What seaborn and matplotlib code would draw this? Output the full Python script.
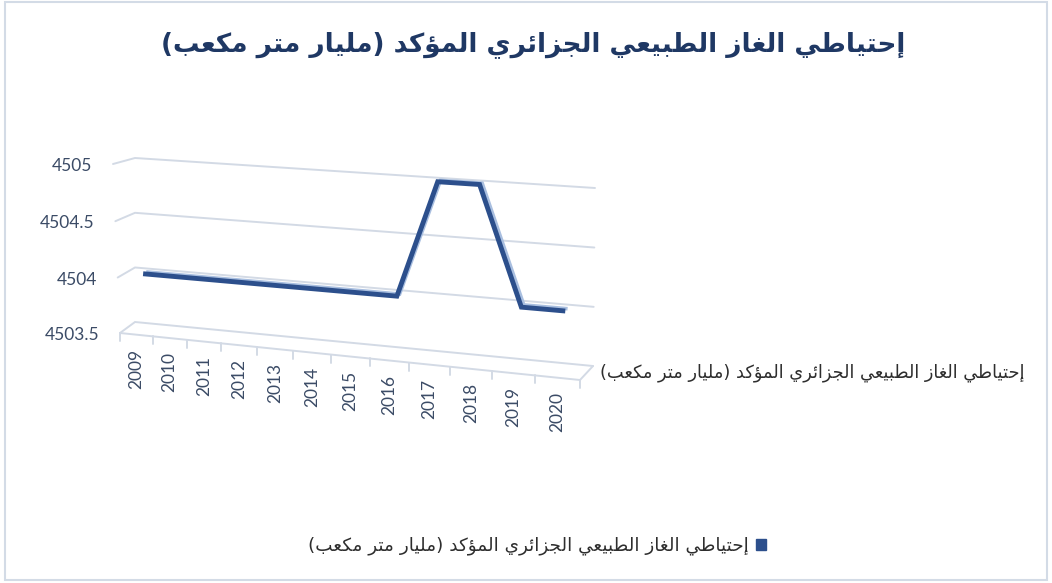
import numpy as np
import pandas as pd
import matplotlib
matplotlib.use("Agg")
import matplotlib.pyplot as plt
import matplotlib.transforms as mtransforms
from matplotlib.patches import Patch, Rectangle
import seaborn as sns

# ---------------------------------------------------------------- data
years = [2009, 2010, 2011, 2012, 2013, 2014, 2015, 2016, 2017, 2018, 2019, 2020]
reserves = [4504, 4504, 4504, 4504, 4504, 4504, 4504, 4504, 4505, 4505, 4504, 4504]
value_ticks = [4503.5, 4504, 4504.5, 4505]
value_tick_labels = ["4503.5", "4504", "4504.5", "4505"]
title_text = "إحتياطي الغاز الطبيعي الجزائري المؤكد (مليار متر مكعب)"
series_name = "إحتياطي الغاز الطبيعي الجزائري المؤكد (مليار متر مكعب)"

# ---------------------------------------------------------------- arabic shaping
# letter -> (isolated, final, initial, medial)
FORMS = {
    '\u0621': ('\uFE80', None, None, None),
    '\u0622': ('\uFE81', '\uFE82', None, None),
    '\u0623': ('\uFE83', '\uFE84', None, None),
    '\u0624': ('\uFE85', '\uFE86', None, None),
    '\u0625': ('\uFE87', '\uFE88', None, None),
    '\u0626': ('\uFE89', '\uFE8A', '\uFE8B', '\uFE8C'),
    '\u0627': ('\uFE8D', '\uFE8E', None, None),
    '\u0628': ('\uFE8F', '\uFE90', '\uFE91', '\uFE92'),
    '\u0629': ('\uFE93', '\uFE94', None, None),
    '\u062A': ('\uFE95', '\uFE96', '\uFE97', '\uFE98'),
    '\u062B': ('\uFE99', '\uFE9A', '\uFE9B', '\uFE9C'),
    '\u062C': ('\uFE9D', '\uFE9E', '\uFE9F', '\uFEA0'),
    '\u062D': ('\uFEA1', '\uFEA2', '\uFEA3', '\uFEA4'),
    '\u062E': ('\uFEA5', '\uFEA6', '\uFEA7', '\uFEA8'),
    '\u062F': ('\uFEA9', '\uFEAA', None, None),
    '\u0630': ('\uFEAB', '\uFEAC', None, None),
    '\u0631': ('\uFEAD', '\uFEAE', None, None),
    '\u0632': ('\uFEAF', '\uFEB0', None, None),
    '\u0633': ('\uFEB1', '\uFEB2', '\uFEB3', '\uFEB4'),
    '\u0634': ('\uFEB5', '\uFEB6', '\uFEB7', '\uFEB8'),
    '\u0635': ('\uFEB9', '\uFEBA', '\uFEBB', '\uFEBC'),
    '\u0636': ('\uFEBD', '\uFEBE', '\uFEBF', '\uFEC0'),
    '\u0637': ('\uFEC1', '\uFEC2', '\uFEC3', '\uFEC4'),
    '\u0638': ('\uFEC5', '\uFEC6', '\uFEC7', '\uFEC8'),
    '\u0639': ('\uFEC9', '\uFECA', '\uFECB', '\uFECC'),
    '\u063A': ('\uFECD', '\uFECE', '\uFECF', '\uFED0'),
    '\u0641': ('\uFED1', '\uFED2', '\uFED3', '\uFED4'),
    '\u0642': ('\uFED5', '\uFED6', '\uFED7', '\uFED8'),
    '\u0643': ('\uFED9', '\uFEDA', '\uFEDB', '\uFEDC'),
    '\u0644': ('\uFEDD', '\uFEDE', '\uFEDF', '\uFEE0'),
    '\u0645': ('\uFEE1', '\uFEE2', '\uFEE3', '\uFEE4'),
    '\u0646': ('\uFEE5', '\uFEE6', '\uFEE7', '\uFEE8'),
    '\u0647': ('\uFEE9', '\uFEEA', '\uFEEB', '\uFEEC'),
    '\u0648': ('\uFEED', '\uFEEE', None, None),
    '\u0649': ('\uFEEF', '\uFEF0', None, None),
    '\u064A': ('\uFEF1', '\uFEF2', '\uFEF3', '\uFEF4'),
}
LAM_ALEF = {
    '\u0622': ('\uFEF5', '\uFEF6'),
    '\u0623': ('\uFEF7', '\uFEF8'),
    '\u0625': ('\uFEF9', '\uFEFA'),
    '\u0627': ('\uFEFB', '\uFEFC'),
}


def _joins_forward(c):
    return c in FORMS and FORMS[c][2] is not None


def _joins_backward(c):
    return c in FORMS and FORMS[c][1] is not None


def shape_arabic(text):
    """Contextual letter forms + right-to-left visual order."""
    out = []
    i, n = 0, len(text)
    while i < n:
        c = text[i]
        if c not in FORMS:
            out.append(c)
            i += 1
            continue
        joins_prev = i > 0 and _joins_forward(text[i - 1])
        if c == '\u0644' and i + 1 < n and text[i + 1] in LAM_ALEF:
            iso, fin = LAM_ALEF[text[i + 1]]
            out.append(fin if joins_prev else iso)
            i += 2
            continue
        joins_next = _joins_forward(c) and i + 1 < n and _joins_backward(text[i + 1])
        iso, fin, ini, med = FORMS[c]
        if joins_prev and joins_next:
            g = med
        elif joins_prev:
            g = fin
        elif joins_next:
            g = ini
        else:
            g = iso
        out.append(g)
        i += 1
    visual = ''.join(reversed(out))
    return visual.translate(str.maketrans('()', ')('))


# ---------------------------------------------------------------- style
sns.set_theme(style="white")
plt.rcParams['font.family'] = ['Lato', 'DejaVu Sans']
ARABIC = ['DejaVu Sans']

W, H = 1052, 583
fig = plt.figure(figsize=(W / 100, H / 100), dpi=100)
ax = fig.add_axes([0, 0, 1, 1])

LINE_DARK = '#2C4F8C'
LINE_LIGHT = '#A9BFE0'
GRID = '#D3DAE5'
AXIS_TEXT = '#3B4B66'
TITLE_COLOR = '#1F3864'

# ---------------------------------------------------------------- 3-D box projection
V_MIN, V_MAX = value_ticks[0], value_ticks[-1]
X_MIN, X_MAX = years[0] - 0.5, years[-1] + 0.5
# screen corners of the plot box walls: top-left, top-right, bottom-left, bottom-right
BACK_WALL = [(135, 158), (595, 188), (135, 322), (593, 366)]
FRONT_FACE = [(113, 164), (584, 196), (120, 333), (580, 380)]
FORESHORTEN = 1.08


def square_to_quad(tl, tr, bl, br):
    src = [(0, 1), (1, 1), (0, 0), (1, 0)]
    dst = [tl, tr, bl, br]
    rows = []
    for (x, y), (X, Y) in zip(src, dst):
        rows.append([x, y, 1, 0, 0, 0, -X * x, -X * y, -X])
        rows.append([0, 0, 0, x, y, 1, -Y * x, -Y * y, -Y])
    _, _, vt = np.linalg.svd(np.asarray(rows, float))
    return vt[-1].reshape(3, 3)


H_BACK = square_to_quad(*BACK_WALL)
H_FRONT = square_to_quad(*FRONT_FACE)


def _apply(hm, s, t):
    p = hm @ np.vstack([s, t, np.ones_like(s)])
    return np.column_stack([p[0] / p[2], p[1] / p[2]])


def project(x, v, depth):
    x, v = np.broadcast_arrays(np.atleast_1d(np.asarray(x, float)),
                               np.atleast_1d(np.asarray(v, float)))
    s = (x - X_MIN) / (X_MAX - X_MIN)
    s = s / (FORESHORTEN + (1 - FORESHORTEN) * s)
    t = (v - V_MIN) / (V_MAX - V_MIN)
    return (1 - depth) * _apply(H_FRONT, s, t) + depth * _apply(H_BACK, s, t)


class BoxProjection(mtransforms.Transform):
    input_dims = 2
    output_dims = 2
    is_separable = False
    has_inverse = False

    def __init__(self, plane_depth):
        super().__init__()
        self.plane_depth = plane_depth

    def transform_non_affine(self, values):
        values = np.asarray(values, float)
        return project(values[:, 0], values[:, 1], self.plane_depth)


# ---------------------------------------------------------------- walls, floor, gridlines
for v in value_ticks:
    pts = np.vstack([project(X_MIN, v, 0), project(X_MIN, v, 1), project(X_MAX, v, 1)])
    ax.plot(pts[:, 0], pts[:, 1], color=GRID, lw=1.4, solid_joinstyle='miter', zorder=1)

floor = np.vstack([project(X_MIN, V_MIN, 0), project(X_MAX, V_MIN, 0), project(X_MAX, V_MIN, 1)])
ax.plot(floor[:, 0], floor[:, 1], color=GRID, lw=1.4, solid_joinstyle='miter', zorder=1)

for b in np.arange(X_MIN, X_MAX + 0.01, 1.0):
    p = project(b, V_MIN, 0)[0]
    ax.plot([p[0], p[0]], [p[1], p[1] + 8], color=GRID, lw=1.4, zorder=1)

# ---------------------------------------------------------------- series ribbon
df = pd.DataFrame({"year": years, "reserve": reserves})
sns.lineplot(data=df, x="year", y="reserve", ax=ax, color=LINE_LIGHT, lw=2.6,
             errorbar=None, legend=False, solid_joinstyle='miter', solid_capstyle='butt',
             transform=BoxProjection(0.7) + ax.transData, zorder=3)
sns.lineplot(data=df, x="year", y="reserve", ax=ax, color=LINE_DARK, lw=3.5,
             errorbar=None, legend=False, solid_joinstyle='miter', solid_capstyle='butt',
             transform=BoxProjection(0.52) + ax.transData, zorder=4)

# ---------------------------------------------------------------- tick labels
for v, lab in zip(value_ticks, value_tick_labels):
    p = project(X_MIN, v, 0)[0]
    ax.text(p[0] - 21, p[1] + 2, lab, ha='right', va='center',
            fontsize=12.5, color=AXIS_TEXT)

for yr in years:
    p = project(yr, V_MIN, 0)[0]
    ax.text(p[0], p[1] + 14, str(yr), rotation=90, ha='center', va='top',
            fontsize=12.5, color=AXIS_TEXT)

p = project(X_MAX, V_MIN, 0.5)[0]
ax.text(p[0] + 14, p[1], shape_arabic(series_name), ha='left', va='center',
        fontsize=12.8, color='#2E2E2E', family=ARABIC)

# ---------------------------------------------------------------- title, legend, frame
ax.text(533, 45, shape_arabic(title_text), ha='center', va='center',
        fontsize=19, fontweight='bold', color=TITLE_COLOR, family=ARABIC)

leg = ax.legend(handles=[Patch(facecolor=LINE_DARK, edgecolor=LINE_DARK)],
                labels=[shape_arabic(series_name)], markerfirst=False,
                loc='center', bbox_to_anchor=(537 / W, 1 - 546 / H),
                bbox_transform=fig.transFigure, frameon=False,
                handlelength=0.55, handleheight=0.55, handletextpad=0.35,
                prop={'family': ARABIC, 'size': 13.2})
for t in leg.get_texts():
    t.set_color('#2E2E2E')

ax.add_patch(Rectangle((5, 2), W - 10, H - 5, fill=False, ec='#D3DBE6', lw=1.5, zorder=0))

ax.set_xlim(0, W)
ax.set_ylim(H, 0)
ax.set_axis_off()

fig.savefig("out.png", dpi=100)
